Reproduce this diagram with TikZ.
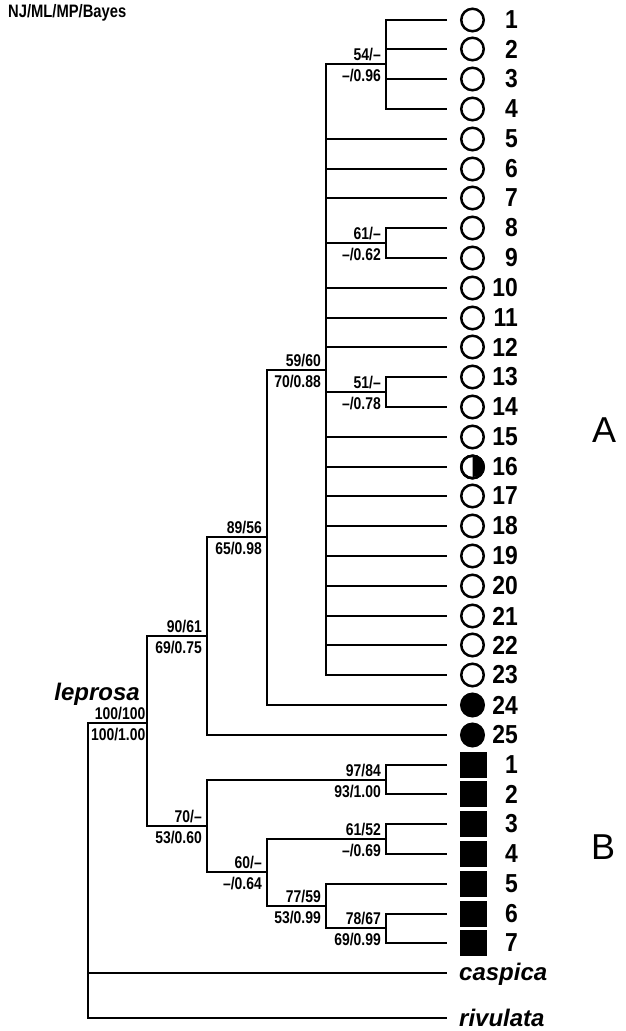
\documentclass[tikz,border=0pt]{standalone}
\usepackage{fontspec}
\setmainfont{Liberation Sans}
\newfontfamily\narrowfont[FakeStretch=0.82]{Liberation Sans}
\newfontfamily\numfont[FakeStretch=0.88]{Liberation Sans}
\begin{document}
\begin{tikzpicture}[x=1pt,y=-1pt,
  branch/.style={line width=2.4pt},
  lab/.style={font=\narrowfont\fontsize{17}{17}\selectfont\bfseries, inner sep=0pt},
  up/.style={lab, anchor=base east, xshift=-5pt, yshift=4pt},
  dn/.style={lab, anchor=base east, xshift=-5pt, yshift=-17.5pt},
  num/.style={font=\numfont\fontsize{26}{26}\selectfont\bfseries, inner sep=0pt, anchor=east},
  sp/.style={font=\fontsize{24}{24}\selectfont\bfseries\itshape, inner sep=0pt, anchor=base west},
  opencirc/.style={circle, draw, line width=2.5pt, minimum size=22.5pt, inner sep=0pt},
  fullcirc/.style={opencirc, fill=black},
  sq/.style={rectangle, fill=black, minimum width=27pt, minimum height=26.5pt, inner sep=0pt}
]
\useasboundingbox (0,0) rectangle (626,1031);

% leaves of clade A
\foreach \i in {1,...,25}{
  \pgfmathsetmacro\yy{round(19.5+29.8*(\i-1))}
  \coordinate (a\i) at (447,\yy);
  \node[num] (ta\i) at (518,\yy) {\i};
}
\foreach \i in {1,...,23}{
  \pgfmathsetmacro\yy{round(19.5+29.8*(\i-1))}
  \node[opencirc] (ma\i) at (472.5,\yy) {};
}
\node[fullcirc] (ma24) at (472.5,705) {};
\node[fullcirc] (ma25) at (472.5,735) {};
\fill (ma16.north) arc[start angle=90, end angle=-90, radius=11.25pt] -- cycle;
\node[opencirc] (ma16b) at (ma16) {};

% leaves of clade B
\foreach \i in {1,...,7}{
  \pgfmathsetmacro\yy{round(764.5+29.8*(\i-1))}
  \coordinate (b\i) at (447,\yy);
  \node[sq] (mb\i) at (473.5,\yy) {};
  \node[num] (tb\i) at (518,\yy) {\i};
}
\coordinate (casp) at (447,973);
\coordinate (rivu) at (447,1018);
\node[sp] (caspica) at (459,980) {caspica};
\node[sp] (rivulata) at (459,1026) {rivulata};

% internal nodes
\coordinate (n54) at (386,64);
\coordinate (n61) at (386,243);
\coordinate (n51) at (386,392);
\coordinate (n59) at (326,370);
\coordinate (n89) at (267,537);
\coordinate (n90) at (207,636);
\coordinate (n97) at (386,780);
\coordinate (n6152) at (386,839);
\coordinate (n78) at (386,928);
\coordinate (n77) at (326,906);
\coordinate (n60) at (267,872);
\coordinate (n70) at (207,826);
\coordinate (n100) at (147,723);
\coordinate (root) at (88,723);

% branches
\draw[branch] (a1) -| (n54) |- (a4);
\draw[branch] (n54) |- (a2);
\draw[branch] (n54) |- (a3);
\draw[branch] (a8) -| (n61) |- (a9);
\draw[branch] (a13) -| (n51) |- (a14);
\draw[branch] (n54) -| (n59) |- (a23);
\foreach \c in {a5,a6,a7,n61,a10,a11,a12,n51,a15,a16,a17,a18,a19,a20,a21,a22}
  \draw[branch] (n59) |- (\c);
\draw[branch] (n59) -| (n89) |- (a24);
\draw[branch] (n89) -| (n90) |- (a25);
\draw[branch] (b1) -| (n97) |- (b2);
\draw[branch] (b3) -| (n6152) |- (b4);
\draw[branch] (b6) -| (n78) |- (b7);
\draw[branch] (b5) -| (n77) |- (n78);
\draw[branch] (n6152) -| (n60) |- (n77);
\draw[branch] (n97) -| (n70) |- (n60);
\draw[branch] (n90) -| (n100) |- (n70);
\draw[branch] (n100) -| (root) |- (rivu);
\draw[branch] (root) |- (casp);

% support values
\node[up] (l54u) at (n54) {54/–};
\node[dn] (l54d) at (n54) {–/0.96};
\node[up] (l61u) at (n61) {61/–};
\node[dn] (l61d) at (n61) {–/0.62};
\node[up] (l51u) at (n51) {51/–};
\node[dn] (l51d) at (n51) {–/0.78};
\node[up] (l59u) at (n59) {59/60};
\node[dn] (l59d) at (n59) {70/0.88};
\node[up] (l89u) at (n89) {89/56};
\node[dn] (l89d) at (n89) {65/0.98};
\node[up] (l90u) at (n90) {90/61};
\node[dn] (l90d) at (n90) {69/0.75};
\node[up, xshift=3.5pt] (l100u) at (n100) {100/100};
\node[dn, xshift=3.5pt] (l100d) at (n100) {100/1.00};
\node[font=\fontsize{24}{24}\selectfont\bfseries\itshape, inner sep=0pt, anchor=base east] (leprosa) at (140,700) {leprosa};
\node[up] (l97u) at (n97) {97/84};
\node[dn] (l97d) at (n97) {93/1.00};
\node[up] (l70u) at (n70) {70/–};
\node[dn] (l70d) at (n70) {53/0.60};
\node[up] (l6152u) at (n6152) {61/52};
\node[dn] (l6152d) at (n6152) {–/0.69};
\node[up] (l60u) at (n60) {60/–};
\node[dn] (l60d) at (n60) {–/0.64};
\node[up] (l77u) at (n77) {77/59};
\node[dn] (l77d) at (n77) {53/0.99};
\node[up] (l78u) at (n78) {78/67};
\node[dn] (l78d) at (n78) {69/0.99};

% titles
\node[font=\narrowfont\fontsize{18}{18}\selectfont\bfseries, inner sep=0pt, anchor=west] (title) at (8,13) {NJ/ML/MP/Bayes};
\node[font=\fontsize{36}{36}\selectfont, inner sep=0pt] (cladeA) at (604,430) {A};
\node[font=\fontsize{36}{36}\selectfont, inner sep=0pt] (cladeB) at (603,847) {B};
\end{tikzpicture}
\end{document}
